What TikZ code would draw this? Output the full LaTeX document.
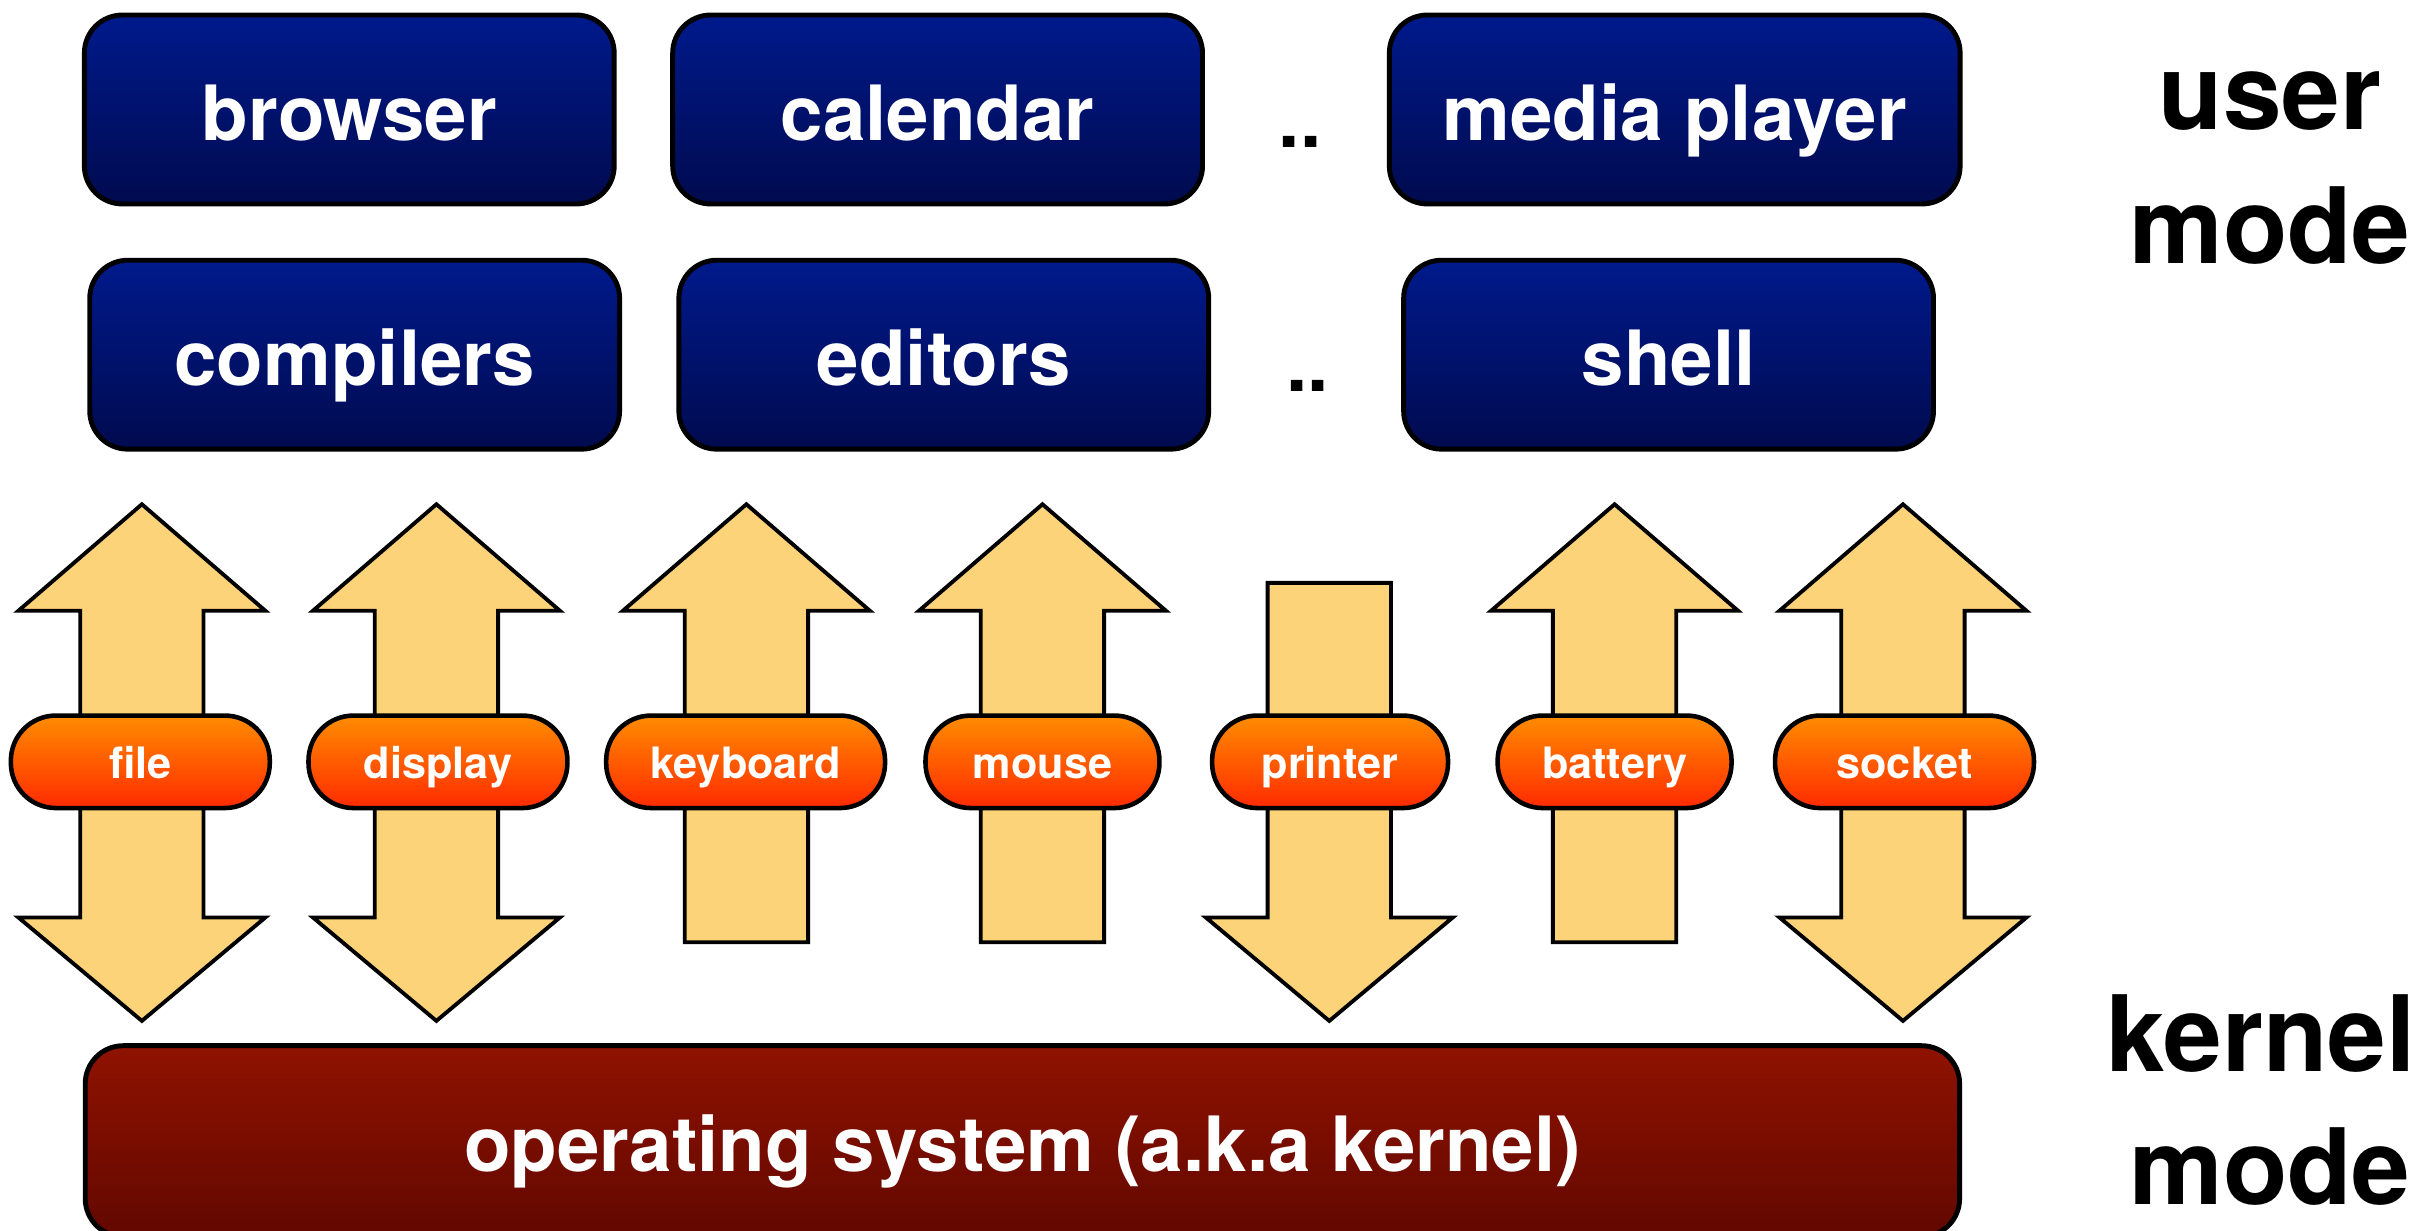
\documentclass[tikz,border=0pt]{standalone}
\usepackage{fontspec}
\setmainfont{TeX Gyre Heros}
\definecolor{apptop}{RGB}{0,26,140}
\definecolor{appbot}{RGB}{0,10,78}
\definecolor{pilltop}{RGB}{255,140,0}
\definecolor{pillbot}{RGB}{255,42,0}
\definecolor{kerntop}{RGB}{143,18,0}
\definecolor{kernbot}{RGB}{98,8,0}
\definecolor{pipefill}{RGB}{253,211,122}
% block arrows, #1 = x of the column
\newcommand{\twoway}[1]{%
  \draw[iopipe] (#1-40,396) -- (#1-80,396) -- (#1,327) -- (#1+80,396) -- (#1+40,396)
    -- (#1+40,595) -- (#1+80,595) -- (#1,662) -- (#1-80,595) -- (#1-40,595) -- cycle;}
\newcommand{\upway}[1]{%
  \draw[iopipe] (#1-40,396) -- (#1-80,396) -- (#1,327) -- (#1+80,396) -- (#1+40,396)
    -- (#1+40,611) -- (#1-40,611) -- cycle;}
\newcommand{\downway}[1]{%
  \draw[iopipe] (#1-40,378) -- (#1+40,378) -- (#1+40,595) -- (#1+80,595) -- (#1,662)
    -- (#1-80,595) -- (#1-40,595) -- cycle;}
\begin{document}
\begin{tikzpicture}[x=0.01542cm, y=-0.01542cm,
  appbox/.style={draw, line width=1.4pt, rounded corners=0.38cm, top color=apptop, bottom color=appbot,
    text=white, font=\bfseries\fontsize{21.7}{26}\selectfont, text height=17.5pt, text depth=0pt,
    minimum width=5.3cm, minimum height=1.89cm},
  devpill/.style={draw, line width=1.3pt, rounded corners=0.45cm, top color=pilltop, bottom color=pillbot,
    text=white, font=\bfseries\fontsize{12.3}{15}\selectfont, text height=9.6pt, text depth=0pt,
    minimum height=0.925cm},
  kernbox/.style={draw, line width=1.4pt, rounded corners=0.38cm, top color=kerntop, bottom color=kernbot,
    text=white, font=\bfseries\fontsize{21.7}{26}\selectfont, text height=17.5pt, text depth=0pt,
    minimum width=18.75cm, minimum height=1.91cm},
  iopipe/.style={draw, line width=1.1pt, fill=pipefill},
  modelabel/.style={anchor=base, inner sep=0pt, font=\bfseries\fontsize{30}{36}\selectfont}]
\useasboundingbox (0,0) rectangle (1568,798);
% user programs
\node[appbox] (browser) at (226.5,71) {browser};
\node[appbox] (calendar) at (608,71) {calendar};
\node[appbox, minimum width=5.71cm] (media) at (1086,71) {media player};
\node[appbox] (compilers) at (230,230) {compilers};
\node[appbox] (editors) at (612,230) {editors};
\node[appbox] (shell) at (1082,230) {shell};
\node[font=\bfseries\fontsize{21.7}{26}\selectfont] (dotsa) at (843,92) {..};
\node[font=\bfseries\fontsize{21.7}{26}\selectfont] (dotsb) at (848,250) {..};
% system calls
\twoway{92}
\twoway{283}
\upway{484}
\upway{676}
\downway{862}
\upway{1047}
\twoway{1234}
\node[devpill, minimum width=2.59cm] (file) at (91,494) {file};
\node[devpill, minimum width=2.59cm] (display) at (284,494) {display};
\node[devpill, minimum width=2.79cm] (keyboard) at (483.5,494) {keyboard};
\node[devpill, minimum width=2.34cm] (mouse) at (676,494) {mouse};
\node[devpill, minimum width=2.36cm] (printer) at (862.5,494) {printer};
\node[devpill, minimum width=2.34cm] (battery) at (1047,494) {battery};
\node[devpill, minimum width=2.59cm] (socket) at (1235,494) {socket};
% kernel
\node[kernbox] (kernel) at (663,740) {operating system (a.k.a kernel)};
% mode labels
\node[modelabel] (user) at (1472,84) {user};
\node[modelabel] (umode) at (1472,171) {mode};
\node[modelabel] (kern) at (1466,695) {kernel};
\node[modelabel] (kmode) at (1472,781) {mode};
\end{tikzpicture}
\end{document}
